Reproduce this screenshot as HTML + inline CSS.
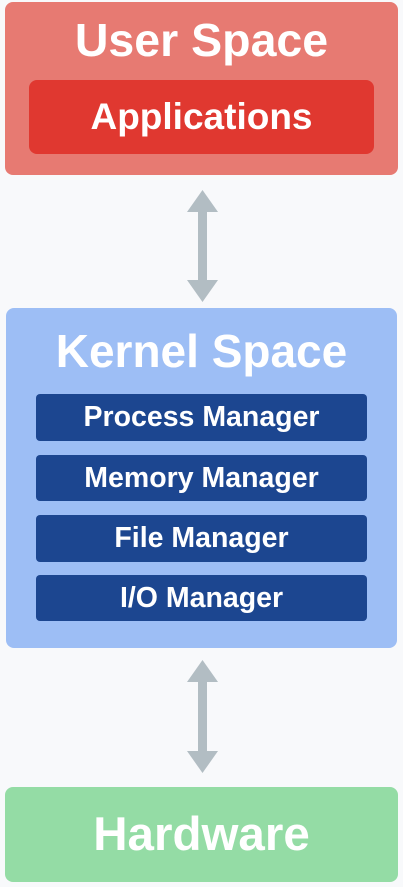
<!DOCTYPE html>
<html><head><meta charset="utf-8"><style>
html,body{margin:0;padding:0;background:#f8f9fb;}
body{width:403px;height:887px;position:relative;overflow:hidden;font-family:"Liberation Sans",Arial,sans-serif;color:#fff;font-weight:bold;}
.b{position:absolute;box-sizing:border-box;text-align:center;}
.t{position:absolute;left:0;right:0;text-align:center;white-space:nowrap;}
.bar{position:absolute;left:36px;width:331px;height:46px;background:#1c4690;border-radius:4px;font-size:28.5px;line-height:46px;text-align:center;white-space:nowrap;}
</style></head><body>
<div class="b" style="left:5px;top:2px;width:393px;height:173px;background:#e77a72;border-radius:8px;">
  <div class="t" style="top:13px;font-size:46.5px;line-height:50px;">User Space</div>
  <div style="position:absolute;left:24px;top:78px;width:345px;height:74px;background:#e03830;border-radius:8px;font-size:37px;line-height:74px;">Applications</div>
</div>
<svg style="position:absolute;left:0;top:0" width="403" height="887">
  <g fill="#b2bdc3">
    <polygon points="202.5,190 218,212 187,212"/>
    <rect x="198" y="211" width="9" height="70"/>
    <polygon points="202.5,302 218,280 187,280"/>
    <polygon points="202.5,660 218,682 187,682"/>
    <rect x="198" y="681" width="9" height="71"/>
    <polygon points="202.5,773 218,751 187,751"/>
  </g>
</svg>
<div class="b" style="left:6px;top:308px;width:391px;height:340px;background:#9dbef5;border-radius:8px;">
  <div class="t" style="top:18px;font-size:46px;line-height:50px;">Kernel Space</div>
</div>
<div class="bar" style="top:394px;height:47px;line-height:47px;">Process Manager</div>
<div class="bar" style="top:455px;">Memory Manager</div>
<div class="bar" style="top:515px;height:47px;line-height:47px;">File Manager</div>
<div class="bar" style="top:575px;">I/O Manager</div>
<div class="b" style="left:5px;top:787px;width:393px;height:95px;background:#94dca5;border-radius:8px;font-size:47.5px;line-height:95px;">Hardware</div>
</body></html>
